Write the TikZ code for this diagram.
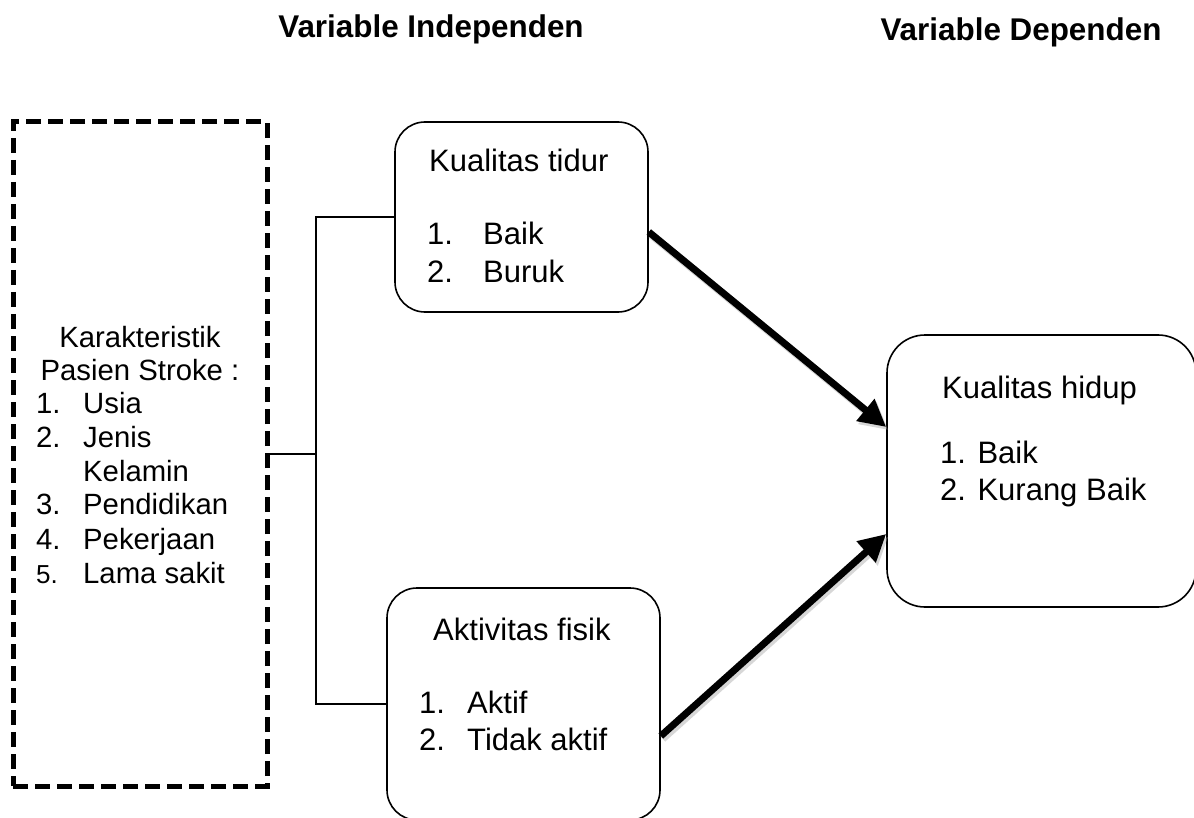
\documentclass[tikz,border=0pt]{standalone}
\usepackage{fontspec}
\setmainfont{Liberation Sans}
\usetikzlibrary{arrows.meta}
\begin{document}
\begin{tikzpicture}[x=1pt,y=-1pt,
  box/.style={draw, line width=1.6pt, rounded corners=30pt, inner sep=0pt},
  dbox/.style={draw, line width=5pt, dash pattern=on 15pt off 7pt, inner sep=0pt},
  link/.style={line width=1.6pt},
  bigarrow/.style={line width=7pt, -{Triangle[length=27pt,width=27pt]}},
  arrowshadow/.style={bigarrow, draw=black!35, opacity=0.45},
  t/.style={anchor=base west, inner sep=0pt, font=\fontsize{31}{37}\selectfont},
  k/.style={anchor=base west, inner sep=0pt, font=\fontsize{29.3}{34}\selectfont},
  kc/.style={anchor=base, inner sep=0pt, font=\fontsize{29.3}{34}\selectfont},
  title/.style={anchor=base, inner sep=0pt, font=\fontsize{31.4}{36}\selectfont\bfseries}]
\useasboundingbox (0,0) rectangle (1194,818);
\clip (0,0) rectangle (1194,818);

% titles
\node[title] (t1) at (431,38) {Variable Independen};
\node[title] (t2) at (1021,41) {Variable Dependen};

% boxes
\node[dbox, minimum width=254pt, minimum height=664pt] (kar) at (140,454) {};
\node[box, minimum width=253pt, minimum height=190pt] (tidur) at (521.5,217) {};
\node[box, minimum width=273pt, minimum height=232pt] (aktif) at (523.5,704) {};
\node[box, rounded corners=38pt, minimum width=309pt, minimum height=272pt] (hidup) at (1041.5,471) {};

% Karakteristik text
\node[kc] (k1) at (140,347) {Karakteristik};
\node[kc] (k2) at (140,380) {Pasien Stroke :};
\node[k] (k3n) at (36,413) {1.};  \node[k] (k3) at (83,413) {Usia};
\node[k] (k4n) at (36,447) {2.};  \node[k] (k4) at (83,447) {Jenis};
\node[k] (k5) at (83,481) {Kelamin};
\node[k] (k6n) at (36,514) {3.};  \node[k] (k6) at (83,514) {Pendidikan};
\node[k] (k7n) at (36,549) {4.};  \node[k] (k7) at (83,549) {Pekerjaan};
\node[k, font=\fontsize{26}{30}\selectfont] (k8n) at (36,583) {5.};  \node[k] (k8) at (83,583) {Lama sakit};

% Kualitas tidur text
\node[t] (a1) at (429,172) {Kualitas tidur};
\node[t] (a2n) at (427,245) {1.}; \node[t] (a2) at (483,245) {Baik};
\node[t] (a3n) at (427,283) {2.}; \node[t] (a3) at (483,283) {Buruk};

% Aktivitas fisik text
\node[t] (b1) at (433,640) {Aktivitas fisik};
\node[t] (b2n) at (419,713) {1.}; \node[t] (b2) at (467,713) {Aktif};
\node[t] (b3n) at (419,750) {2.}; \node[t] (b3) at (467,750) {Tidak aktif};

% Kualitas hidup text
\node[t] (c1) at (942,398) {Kualitas hidup};
\node[t] (c2) at (940,463) {1. Baik};
\node[t] (c3) at (940,500) {2. Kurang Baik};

% connectors
\coordinate (j) at (316,454);
\draw[link] (kar.east) -- (j);
\draw[link] (tidur.west) -| (j) |- (aktif.west);

% arrow shadows
\draw[arrowshadow] ([xshift=2pt,yshift=-18pt]tidur.east) -- ([xshift=2pt,yshift=41pt]hidup.west);
\draw[arrowshadow] ([xshift=2pt,yshift=-35pt]aktif.east) -- ([xshift=2pt,yshift=-66pt]hidup.west);
% arrows
\draw[bigarrow] ([yshift=-15pt]tidur.east) -- ([yshift=44pt]hidup.west);
\draw[bigarrow] ([yshift=-32pt]aktif.east) -- ([yshift=-63pt]hidup.west);
\end{tikzpicture}
\end{document}
